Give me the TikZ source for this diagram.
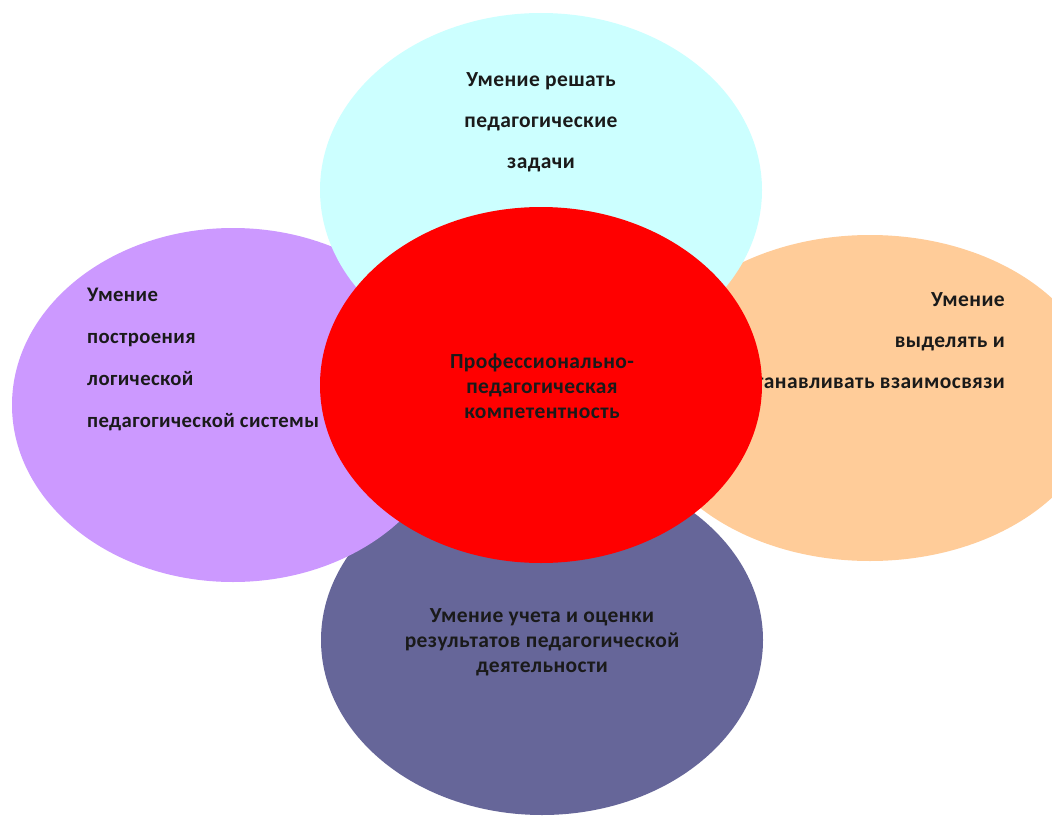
\documentclass[tikz,border=0pt]{standalone}
\usepackage{fontspec}
\setmainfont{Carlito}
\newfontfamily\lblfont[LetterSpace=2]{Carlito}
\usetikzlibrary{shapes.geometric}
\definecolor{cCyan}{HTML}{CCFFFF}
\definecolor{cPurple}{HTML}{CC99FF}
\definecolor{cPeach}{HTML}{FFCC99}
\definecolor{cSlate}{HTML}{666699}
\definecolor{cRed}{HTML}{FF0000}
\definecolor{cText}{HTML}{1A1A1A}
\tikzset{
  blob/.style={ellipse, draw=none, inner sep=0pt, outer sep=0pt},
  wide/.style={font=\lblfont\fontsize{21.5}{41}\selectfont\bfseries, text=cText, inner sep=0pt},
  widesm/.style={font=\lblfont\fontsize{20.7}{42}\selectfont\bfseries, text=cText, inner sep=0pt},
  tight/.style={font=\lblfont\fontsize{21.5}{25}\selectfont\bfseries, text=cText, inner sep=0pt},
}
\begin{document}
\begin{tikzpicture}[x=1pt,y=-1pt]
\useasboundingbox (0,0) rectangle (1052,816);
\fill[white] (0,0) rectangle (1052,816);
\clip (0,0) rectangle (1052,816);
% bottom
\node[blob, fill=cSlate, minimum width=442pt, minimum height=350pt] (slate) at (542,640) {};
\node[tight, align=center] (tslate) at (542,642) {Умение учета и оценки\\результатов педагогической\\деятельности};
% right
\node[blob, fill=cPeach, minimum width=460pt, minimum height=326pt] (peach) at (870,398) {};
\node[wide, align=right, anchor=east] (tpeach) at (1005,342) {Умение\\выделять и\\устанавливать взаимосвязи};
% left
\node[blob, fill=cPurple, minimum width=442pt, minimum height=354pt] (purple) at (233,405) {};
\node[widesm, align=left, anchor=west] (tpurple) at (87,359.5) {Умение\\построения\\логической\\педагогической системы};
% top
\node[blob, fill=cCyan, minimum width=442pt, minimum height=354pt] (cyan) at (541,190) {};
\node[wide, align=center] (tcyan) at (541,122) {Умение решать\\педагогические\\задачи};
% centre
\node[blob, fill=cRed, minimum width=442pt, minimum height=356pt] (red) at (541,385) {};
\node[tight, align=center] (tred) at (542,386.5) {Профессионально-\\педагогическая\\компетентность};
\end{tikzpicture}
\end{document}
